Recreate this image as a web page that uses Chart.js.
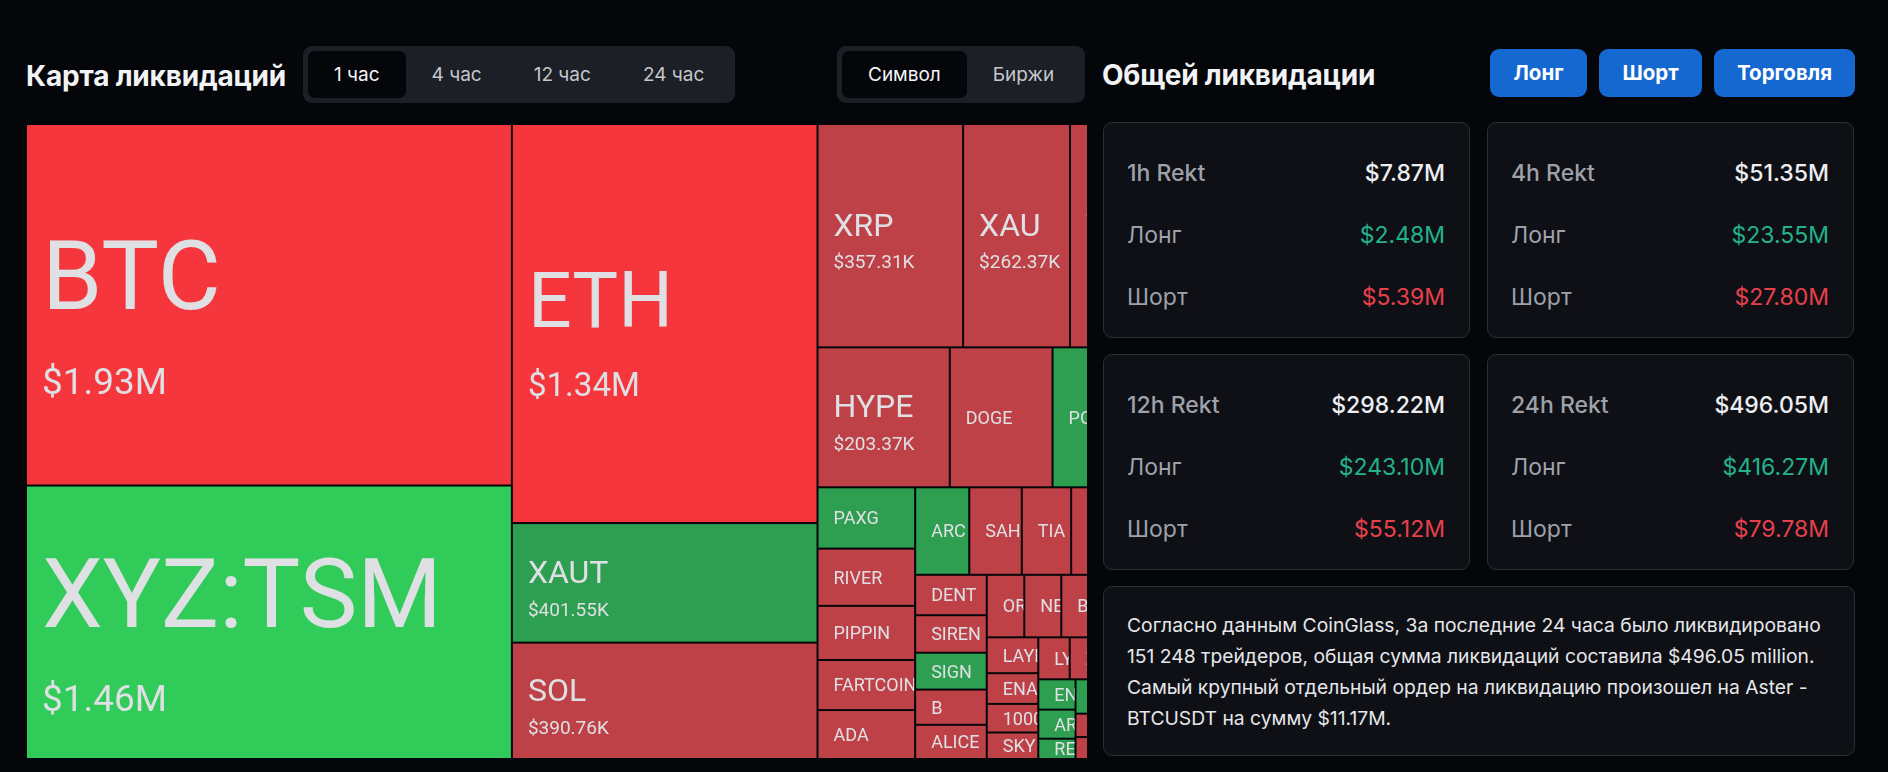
<!DOCTYPE html>
<html lang="ru">
<head>
<meta charset="utf-8">
<title>Карта ликвидаций</title>
<script src="https://cdn.jsdelivr.net/npm/chart.js@4.4.1/dist/chart.umd.min.js"></script>
<style>
  html, body { margin: 0; padding: 0; }
  body {
    width: 1888px; height: 772px; overflow: hidden; position: relative;
    background: #05060a; color: #e8e9ec; font-family: Inter, "Noto Sans", sans-serif;
  }
  .title { position: absolute; font-weight: 700; font-size: 28px; line-height: 34px; color: #f2f3f5; white-space: nowrap; letter-spacing: -0.2px; }
  .tabs {
    position: absolute; top: 46px; height: 57px; box-sizing: border-box; padding: 5px;
    background: #1c1f26; border-radius: 9px; display: flex;
  }
  .tabs span {
    display: block; height: 47px; line-height: 47px; padding: 0 26px; font-size: 19px;
    color: #c5c7cc; border-radius: 7px; white-space: nowrap;
  }
  .tabs span.on { background: #05060a; color: #f4f5f7; }
  .btn {
    position: absolute; top: 49px; height: 48px; line-height: 48px; text-align: center;
    background: #1468d0; color: #fff; font-weight: 700; font-size: 20.5px; border-radius: 9px;
  }
  .card {
    position: absolute; width: 367px; height: 216px; box-sizing: border-box;
    background: #0e1016; border: 1px solid #2a2d34; border-radius: 9px;
  }
  .row {
    position: absolute; left: 23px; right: 24px; height: 24px; line-height: 24px;
    font-size: 23px; display: flex; justify-content: space-between;
  }
  .row.head { font-weight: 500; }
  .row .k { color: #9ea1a8; }
  .row .v { color: #eceef1; }
  .row .v.long { color: #22b38b; }
  .row .v.short { color: #e8404b; }
  .note {
    position: absolute; left: 1103px; top: 586px; width: 752px; height: 170px; box-sizing: border-box;
    background: #0e1016; border: 1px solid #2a2d34; border-radius: 9px;
    padding: 23px 23px 0 23px; font-size: 19.3px; line-height: 31px; color: #e6e7ea; white-space: nowrap;
  }
  #mapClip { position: absolute; left: 26px; top: 124px; width: 1061px; height: 635px; overflow: hidden; }
  #mapBox { position: relative; width: 1128px; height: 635px; }
</style>
</head>
<body>

<div class="title" style="left:26px; top:59px;">Карта ликвидаций</div>
<div class="tabs" style="left:303px;">
  <span class="on">1 час</span><span>4 час</span><span>12 час</span><span>24 час</span>
</div>
<div class="tabs" style="left:837px;">
  <span class="on" style="padding:0 26px;">Символ</span><span style="padding:0 26px;">Биржи</span>
</div>

<div class="title" style="left:1102px; top:58px;">Общей ликвидации</div>
<div class="btn" style="left:1490px; width:97px;">Лонг</div>
<div class="btn" style="left:1599px; width:103px;">Шорт</div>
<div class="btn" style="left:1714px; width:141px;">Торговля</div>

<div id="cards"></div>

<div class="note">
  Согласно данным CoinGlass, За последние 24 часа было ликвидировано<br>
  151 248 трейдеров, общая сумма ликвидаций составила $496.05 million.<br>
  Самый крупный отдельный ордер на ликвидацию произошел на Aster -<br>
  BTCUSDT на сумму $11.17M.
</div>

<div id="mapClip"><div id="mapBox"><canvas id="treemap"></canvas></div></div>

<script>
// summary cards
const periods = ['1h Rekt', '4h Rekt', '12h Rekt', '24h Rekt'];
const rektTotal = ['$7.87M', '$51.35M', '$298.22M', '$496.05M'];
const rektLong = ['$2.48M', '$23.55M', '$243.10M', '$416.27M'];
const rektShort = ['$5.39M', '$27.80M', '$55.12M', '$79.78M'];

// treemap: liquidations in the last hour, thousands of USD, sorted
const symbols = [
  'BTC', 'XYZ:TSM', 'ETH', 'XAUT', 'SOL', 'XRP', 'XAU', 'TAO', 'HYPE', 'DOGE', 'POL',
  'PAXG', 'RIVER', 'PIPPIN', 'FARTCOIN', 'ADA', 'ARC', 'SAHARA', 'TIA', 'WIF', 'SUI',
  'DENT', 'SIREN', 'SIGN', 'B', 'ALICE', 'ORDI', 'NEAR', 'BCH', 'LINK', 'AVAX',
  'LAYER', 'ENA', '1000PEPE', 'SKY', 'LYN', 'ZEN', 'WLFI', 'WLD', 'ENS', 'ARB', 'RENDER',
  'ONDO', 'APT', 'UNI', 'LTC', 'DOT', 'JUP', 'OP', 'INJ', 'SEI', 'TON', 'AAVE', 'PENGU'
];
const liqValues = [
  1930, 1460, 1340, 401.55, 390.76, 357.31, 262.37, 206.10, 203.37, 158.0, 156.0,
  65.8, 61.4, 58.1, 53.7, 52.5, 52.0, 50.5, 47.5, 40.5, 39.1,
  31.8, 29.5, 29.0, 27.7, 26.9, 25.8, 25.4, 22.0, 21.2, 20.5,
  20.3, 17.4, 16.2, 15.0, 14.5, 13.5, 12.9, 12.5, 12.4, 11.9, 8.3,
  8.0, 7.6, 7.2, 6.8, 6.4, 6.0, 5.6, 5.2, 4.8, 4.4, 3.7, 3.0
];
// which side was liquidated most
const dominantSide = [
  'short', 'long', 'short', 'long', 'short', 'short', 'short', 'short', 'short', 'short', 'long',
  'long', 'short', 'short', 'short', 'short', 'long', 'short', 'short', 'short', 'short',
  'short', 'short', 'long', 'short', 'short', 'short', 'short', 'short', 'short', 'short',
  'short', 'short', 'short', 'short', 'short', 'short', 'short', 'short', 'long', 'long', 'long',
  'long', 'short', 'short', 'long', 'short', 'short', 'long', 'short', 'short', 'short', 'long', 'short'
];

const cardsEl = document.getElementById('cards');
periods.forEach((p, i) => {
  const card = document.createElement('div');
  card.className = 'card';
  card.style.left = (i % 2 ? 1487 : 1103) + 'px';
  card.style.top = (i < 2 ? 122 : 354) + 'px';
  const rows = [[p, rektTotal[i], ''], ['Лонг', rektLong[i], 'long'], ['Шорт', rektShort[i], 'short']];
  rows.forEach((r, j) => {
    const row = document.createElement('div');
    row.className = j === 0 ? 'row head' : 'row';
    row.style.top = (38 + j * 62) + 'px';
    row.innerHTML = '<span class="k">' + r[0] + '</span><span class="v ' + r[2] + '">' + r[1] + '</span>';
    card.appendChild(row);
  });
  cardsEl.appendChild(card);
});

function fmtUsd(k) {
  return k >= 1000 ? '$' + (k / 1000).toFixed(2) + 'M' : '$' + k.toFixed(2) + 'K';
}

function cellColor(i) {
  const big = liqValues[i] >= 1000;
  if (dominantSide[i] === 'long') return big ? '#31cb5a' : '#2e9e50';
  return big ? '#f5363c' : '#bf4148';
}

// squarified layout (golden ratio, same as d3)
function squarify(vals, x0, y0, x1, y1) {
  const ratio = (1 + Math.sqrt(5)) / 2;
  const out = [];
  let value = vals.reduce((a, b) => a + b, 0);
  let i0 = 0, i1 = 0;
  while (i0 < vals.length) {
    const dx = x1 - x0, dy = y1 - y0;
    let sum = vals[i1++];
    let minV = sum, maxV = sum;
    const alpha = Math.max(dy / dx, dx / dy) / (value * ratio);
    let beta = sum * sum * alpha;
    let minRatio = Math.max(maxV / beta, beta / minV);
    for (; i1 < vals.length; i1++) {
      const v = vals[i1];
      sum += v;
      if (v < minV) minV = v;
      if (v > maxV) maxV = v;
      beta = sum * sum * alpha;
      const r = Math.max(maxV / beta, beta / minV);
      if (r > minRatio) { sum -= v; break; }
      minRatio = r;
    }
    if (dx < dy) {
      const yEnd = y0 + dy * sum / value;
      let x = x0;
      for (let i = i0; i < i1; i++) {
        const w = dx * vals[i] / sum;
        out[i] = { x0: x, y0: y0, x1: x + w, y1: yEnd };
        x += w;
      }
      y0 = yEnd;
    } else {
      const xEnd = x0 + dx * sum / value;
      let y = y0;
      for (let i = i0; i < i1; i++) {
        const h = dy * vals[i] / sum;
        out[i] = { x0: x0, y0: y, x1: xEnd, y1: y + h };
        y += h;
      }
      x0 = xEnd;
    }
    value -= sum;
    i0 = i1;
  }
  return out;
}

const treemapPlugin = {
  id: 'treemapCells',
  afterDatasetsDraw(chart) {
    const { ctx, chartArea, scales } = chart;
    const aspect = chartArea.width / chartArea.height;
    const rects = squarify(liqValues, 0, 0, aspect, 1);
    ctx.save();
    rects.forEach((r, i) => {
      const left = scales.x.getPixelForValue(r.x0 / aspect);
      const right = scales.x.getPixelForValue(r.x1 / aspect);
      const top = scales.y.getPixelForValue(r.y0);
      const bottom = scales.y.getPixelForValue(r.y1);
      const w = right - left, h = bottom - top;
      ctx.fillStyle = cellColor(i);
      ctx.fillRect(left + 1, top + 1, w - 2, h - 2);

      ctx.save();
      ctx.beginPath();
      ctx.rect(left + 1, top + 1, w - 2, h - 2);
      ctx.clip();
      ctx.fillStyle = '#dfe0e4';
      ctx.textBaseline = 'alphabetic';
      const cy = top + h / 2;
      const tx = left + 16;
      const v = liqValues[i];
      if (v >= 200) {
        let nameSize = 32, valSize = 19;
        if (v >= 1000) {
          nameSize = 4.4 * Math.sqrt(w);
          valSize = 0.19 * nameSize + 18.5;
        }
        const base = cy + 0.07 * (nameSize - 32);
        ctx.font = '400 ' + nameSize + 'px Roboto';
        ctx.fillText(symbols[i], tx, base);
        ctx.font = '400 ' + valSize + 'px Roboto';
        ctx.fillText(fmtUsd(v), tx, base + 0.6 * nameSize + 0.711 * valSize);
      } else {
        ctx.font = '400 18px Roboto';
        ctx.fillText(symbols[i], tx, cy + 0.711 * 18 / 2);
      }
      ctx.restore();
    });
    ctx.restore();
  }
};

new Chart(document.getElementById('treemap'), {
  type: 'scatter',
  data: { datasets: [{ data: [], pointRadius: 0 }] },
  options: {
    responsive: true,
    maintainAspectRatio: false,
    animation: false,
    layout: { padding: 0 },
    plugins: { legend: { display: false }, tooltip: { enabled: false } },
    scales: {
      x: { type: 'linear', min: 0, max: 1, display: false },
      y: { type: 'linear', min: 0, max: 1, reverse: true, display: false }
    }
  },
  plugins: [treemapPlugin]
});
</script>
</body>
</html>
